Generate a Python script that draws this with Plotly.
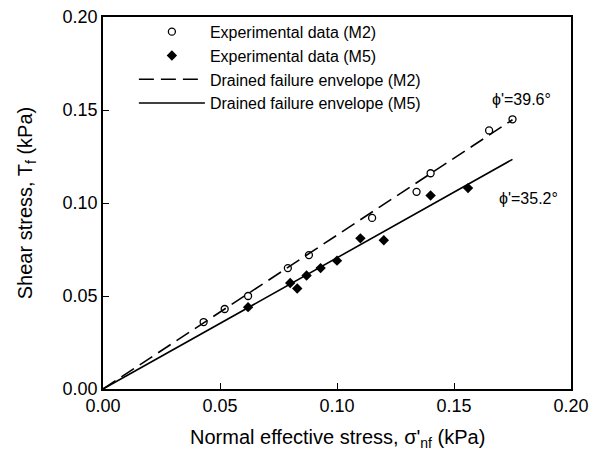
import math
import plotly.graph_objects as go

# Measured failure states (normal effective stress vs shear stress), kPa
m2_sigma = [0.043, 0.052, 0.062, 0.079, 0.088, 0.115, 0.134, 0.140, 0.165, 0.175]
m2_tau = [0.036, 0.043, 0.050, 0.065, 0.072, 0.092, 0.106, 0.116, 0.139, 0.145]

m5_sigma = [0.062, 0.080, 0.083, 0.087, 0.093, 0.100, 0.110, 0.120, 0.140, 0.156]
m5_tau = [0.044, 0.057, 0.054, 0.061, 0.065, 0.069, 0.081, 0.080, 0.104, 0.108]

# Drained friction angles (degrees) of the fitted envelopes
phi_m2 = 39.6
phi_m5 = 35.2
envelope_sigma = [0.0, 0.175]

tick_vals = [0.0, 0.05, 0.10, 0.15, 0.20]
tick_text = ["0.00", "0.05", "0.10", "0.15", "0.20"]

FONT = "Liberation Sans, Arial, Helvetica, sans-serif"


def envelope(phi_deg, sigma):
    t = math.tan(math.radians(phi_deg))
    return [s * t for s in sigma]


fig = go.Figure()

fig.add_trace(go.Scatter(
    x=m2_sigma, y=m2_tau, mode="markers", name="Experimental data (M2)",
    marker=dict(symbol="circle-open", size=7, color="black", line=dict(width=1.3)),
))
fig.add_trace(go.Scatter(
    x=m5_sigma, y=m5_tau, mode="markers", name="Experimental data (M5)",
    marker=dict(symbol="diamond", size=8, color="black"),
))
fig.add_trace(go.Scatter(
    x=envelope_sigma, y=envelope(phi_m2, envelope_sigma), mode="lines",
    name="Drained failure envelope (M2)",
    line=dict(color="black", width=1.6, dash="15px,7px"),
))
fig.add_trace(go.Scatter(
    x=envelope_sigma, y=envelope(phi_m5, envelope_sigma), mode="lines",
    name="Drained failure envelope (M5)",
    line=dict(color="black", width=1.6),
))

fig.add_annotation(x=0.179, y=0.1555, xref="x", yref="y",
                   text="\u03d5'=%.1f\u00b0" % phi_m2, showarrow=False,
                   font=dict(family=FONT, size=16, color="black"))
fig.add_annotation(x=0.182, y=0.1025, xref="x", yref="y",
                   text="\u03d5'=%.1f\u00b0" % phi_m5, showarrow=False,
                   font=dict(family=FONT, size=16, color="black"))

# x-axis title placed just above the bottom edge of the page
fig.add_annotation(x=0.5, y=-0.132, xref="paper", yref="paper",
                   xanchor="center", yanchor="middle",
                   text="Normal effective stress, \u03c3'<sub>nf</sub> (kPa)",
                   showarrow=False,
                   font=dict(family=FONT, size=20, color="black"))

axis_common = dict(
    range=[0, 0.2], tickvals=tick_vals, ticktext=tick_text,
    showgrid=False, zeroline=False, showline=True, mirror=True,
    linecolor="black", linewidth=1.5, ticks="inside", ticklen=6,
    tickwidth=1.2, tickcolor="black",
    tickfont=dict(family=FONT, size=18, color="black"),
    automargin=False,
)

fig.update_xaxes(**axis_common)
fig.update_yaxes(**axis_common,
                 title=dict(text="Shear stress, T<sub>f</sub> (kPa)",
                            font=dict(family=FONT, size=20, color="black"),
                            standoff=25))

fig.update_layout(
    width=597, height=452,
    margin=dict(l=103, r=26, t=17, b=63),
    paper_bgcolor="white", plot_bgcolor="white",
    font=dict(family=FONT, color="black"),
    showlegend=True,
    legend=dict(x=0.066, y=1.006, xanchor="left", yanchor="top",
                bgcolor="rgba(0,0,0,0)", borderwidth=0,
                font=dict(family=FONT, size=16, color="black"),
                itemwidth=66, tracegroupgap=0),
)

fig.write_html("out.html")
